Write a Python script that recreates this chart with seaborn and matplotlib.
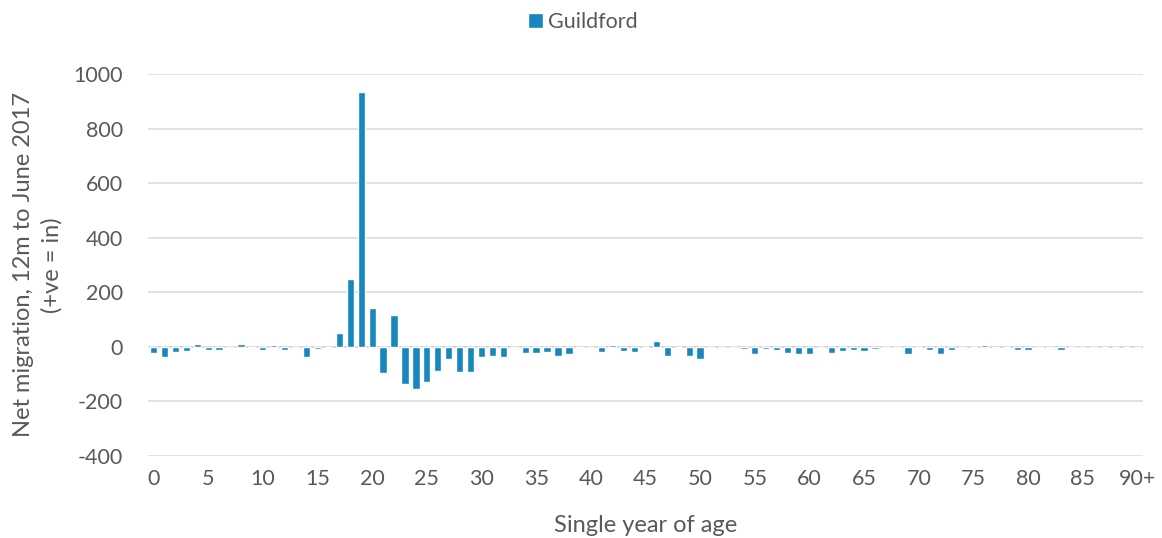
"""
Net migration by single year of age for Guildford, 12 months to June 2017.
"""

import matplotlib
matplotlib.use("Agg")
import matplotlib.pyplot as plt
import seaborn as sns
import pandas as pd

# Ages 0..90 (the last one is the 90+ group)
ages = list(range(91))
age_labels = [str(a) for a in range(90)] + ["90+"]

# Net migration per age
net_migration = [
    -21, -36, -19, -14, 10, -12, -12, 0, 12, 0,
    -10, 5, -13, 0, -36, -8, 0, 49, 247, 935,
    142, -96, 115, -135, -156, -130, -89, -46, -93, -91,
    -39, -32, -38, -5, -22, -22, -19, -32, -26, 0,
    0, -19, 5, -15, -20, 0, 20, -32, 0, -32,
    -43, 0, -2, 0, -7, -27, -7, -12, -22, -27,
    -26, 0, -22, -15, -10, -15, -7, 0, -5, -27,
    -2, -12, -28, -10, -6, 0, 6, -6, 0, -12,
    -12, -3, -4, -13, -6, 0, -4, -6, 0, 0, 0,
]

series_name = "Guildford"
y_ticks = [-400, -200, 0, 200, 400, 600, 800, 1000]

BAR_COLOUR = "#1787BE"
TEXT_COLOUR = "#595959"
GRID_COLOUR = "#D9D9D9"


def main() -> None:
    df = pd.DataFrame({"age": age_labels, "value": net_migration})

    sns.set_theme(style="white")
    plt.rcParams["font.family"] = ["Lato", "DejaVu Sans"]

    fig = plt.figure(figsize=(11.62, 5.38), dpi=100)
    ax = fig.add_axes([0.1274, 0.1524, 0.8562, 0.7101])

    sns.barplot(
        data=df,
        x="age",
        y="value",
        order=age_labels,
        color=BAR_COLOUR,
        saturation=1,
        width=0.67,
        label=series_name,
        ax=ax,
        zorder=3,
    )

    ax.set_xlim(-0.5, len(ages) - 0.5)
    ax.set_ylim(-400, 1000)
    ax.set_yticks(y_ticks)
    ax.set_yticklabels([str(t) for t in y_ticks])

    tick_pos = list(range(0, 91, 5))
    ax.set_xticks(tick_pos)
    ax.set_xticklabels([age_labels[p] for p in tick_pos])

    ax.yaxis.grid(True, color=GRID_COLOUR, linewidth=1.1, zorder=0)
    ax.axhline(0, color=GRID_COLOUR, linewidth=1.3, zorder=2)
    for side in ax.spines.values():
        side.set_visible(False)

    ax.tick_params(axis="both", length=0, labelsize=15.5, colors=TEXT_COLOUR)
    ax.tick_params(axis="x", pad=9)
    ax.tick_params(axis="y", pad=18)

    ax.set_xlabel("Single year of age", fontsize=17, color=TEXT_COLOUR, labelpad=19)
    ax.set_ylabel("Net migration, 12m to June 2017\n(+ve = in)", fontsize=17,
                  color=TEXT_COLOUR, labelpad=8, linespacing=1.4)

    leg = ax.legend(
        loc="center",
        bbox_to_anchor=(0.437, 1.136),
        frameon=False,
        fontsize=15.5,
        handlelength=0.7,
        handleheight=0.7,
        handletextpad=0.25,
    )
    for txt in leg.get_texts():
        txt.set_color(TEXT_COLOUR)

    fig.savefig("out.png", dpi=100)
    plt.close(fig)


if __name__ == "__main__":
    main()
